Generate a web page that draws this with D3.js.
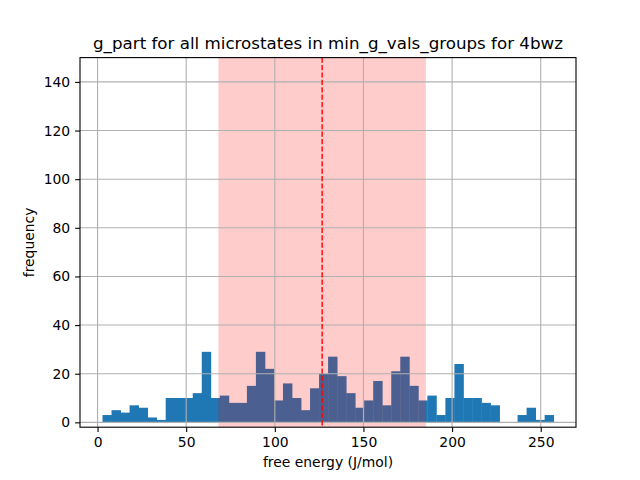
<!DOCTYPE html>
<html>
<head>
<meta charset="utf-8">
<script src="https://cdn.jsdelivr.net/npm/d3@7"></script>
<style>
  body { margin: 0; background: #fff; }
  text { font-family: "DejaVu Sans", sans-serif; }
</style>
</head>
<body>
<svg id="chart" width="640" height="480"></svg>
<script>
// histogram of g_part values, 50 bins
var binStart = 2.8;
var binWidth = 5.09;
var counts = [3, 5, 4, 7, 6, 2, 1, 10, 10, 10,
              12, 29, 10, 11, 8, 8, 15, 29, 22, 9,
              16, 10, 5, 14, 20, 27, 19, 12, 6, 9,
              17, 7, 21, 27, 15, 9, 11, 3, 10, 24,
              10, 10, 8, 7, 0, 0, 3, 6, 1, 3];
var meanVal = 126.7;
var stdVal = 58.5;
var xTicks = [0, 50, 100, 150, 200, 250];
var yTicks = [0, 20, 40, 60, 80, 100, 120, 140];

var bins = counts.map(function(c, i) {
  return { x0: binStart + i * binWidth, x1: binStart + (i + 1) * binWidth, n: c };
});

var margin = { left: 80, right: 576, top: 57.6, bottom: 427.2 };
var svg = d3.select("#chart");

var x = d3.scaleLinear().domain([-9.9, 269.9]).range([margin.left, margin.right]);
var y = d3.scaleLinear().domain([-2, 150]).range([margin.bottom, margin.top]);

var plot = svg.append("g");

// bars (slight overlap so no seams show)
plot.selectAll("rect.bar").data(bins).enter().append("rect")
  .attr("class", "bar")
  .attr("x", function(d) { return x(d.x0); })
  .attr("width", function(d) { return x(d.x1) - x(d.x0) + 0.4; })
  .attr("y", function(d) { return y(d.n); })
  .attr("height", function(d) { return y(0) - y(d.n); })
  .attr("fill", "#1f77b4");

// mean +- std span
plot.append("rect")
  .attr("x", x(meanVal - stdVal))
  .attr("width", x(meanVal + stdVal) - x(meanVal - stdVal))
  .attr("y", margin.top)
  .attr("height", margin.bottom - margin.top)
  .attr("fill", "red")
  .attr("fill-opacity", 0.2);

// grid
plot.selectAll("line.gx").data(xTicks).enter().append("line")
  .attr("x1", function(d) { return x(d); }).attr("x2", function(d) { return x(d); })
  .attr("y1", margin.top).attr("y2", margin.bottom)
  .attr("stroke", "#b0b0b0").attr("stroke-width", 1.1);
plot.selectAll("line.gy").data(yTicks).enter().append("line")
  .attr("y1", function(d) { return y(d); }).attr("y2", function(d) { return y(d); })
  .attr("x1", margin.left).attr("x2", margin.right)
  .attr("stroke", "#b0b0b0").attr("stroke-width", 1.1);

// mean line
plot.append("line")
  .attr("x1", x(meanVal)).attr("x2", x(meanVal))
  .attr("y1", margin.top).attr("y2", margin.bottom)
  .attr("stroke", "red").attr("stroke-width", 1.4)
  .attr("stroke-dasharray", "5.2,2.2");

// axes
var xAxis = d3.axisBottom(x).tickValues(xTicks).tickSize(4.9).tickPadding(4.9);
var yAxis = d3.axisLeft(y).tickValues(yTicks).tickSize(4.9).tickPadding(4.9);

var gx = svg.append("g").attr("transform", "translate(0," + margin.bottom + ")").call(xAxis);
var gy = svg.append("g").attr("transform", "translate(" + margin.left + ",0)").call(yAxis);
[gx, gy].forEach(function(g) {
  g.select(".domain").remove();
  g.selectAll("text").attr("font-size", "13.9px").attr("fill", "#000")
    .style("font-family", "DejaVu Sans");
  g.selectAll("line").attr("stroke", "#000").attr("stroke-width", 1.1);
});

// spines
svg.append("rect")
  .attr("x", margin.left).attr("y", margin.top)
  .attr("width", margin.right - margin.left).attr("height", margin.bottom - margin.top)
  .attr("fill", "none").attr("stroke", "#000").attr("stroke-width", 1.1);

// labels
svg.append("text")
  .attr("x", (margin.left + margin.right) / 2).attr("y", 49.3)
  .attr("text-anchor", "middle").attr("font-size", "16.7px")
  .text("g_part for all microstates in min_g_vals_groups for 4bwz");
svg.append("text")
  .attr("x", (margin.left + margin.right) / 2).attr("y", 467)
  .attr("text-anchor", "middle").attr("font-size", "13.9px")
  .text("free energy (J/mol)");
svg.append("text")
  .attr("transform", "translate(34," + (margin.top + margin.bottom) / 2 + ") rotate(-90)")
  .attr("text-anchor", "middle").attr("font-size", "13.9px")
  .text("frequency");
</script>
</body>
</html>
